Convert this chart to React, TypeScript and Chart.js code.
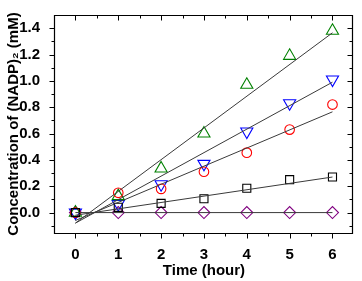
import React, { useEffect, useRef } from 'react';
import { Chart, registerables } from 'chart.js';

Chart.register(...registerables);

// ---- data ----
const hours = [0, 1, 2, 3, 4, 5, 6];
const greenUp = [0, 0.125, 0.335, 0.6, 0.97, 1.19, 1.38];
const blueDown = [0, 0.065, 0.215, 0.37, 0.615, 0.83, 1.01];
const redCircle = [0, 0.15, 0.18, 0.31, 0.455, 0.63, 0.82];
const blackSquare = [0, 0.04, 0.07, 0.105, 0.185, 0.25, 0.27];
const purpleDiamond = [0, 0, 0, 0, 0, 0, 0];

// fitted lines: value at t = 0 and at t = 6
const fitX = [0, 6];
const fitBlack = [-0.02, 0.27];
const fitRed = [-0.06, 0.765];
const fitGreen = [-0.08, 1.365];
const fitBlue = [-0.08, 0.99];
const fitPurple = [0, 0];

// axis ticks
const xMajor = [0, 1, 2, 3, 4, 5, 6];
const xMinor = [0.5, 1.5, 2.5, 3.5, 4.5, 5.5];
const yMajor = [0, 0.2, 0.4, 0.6, 0.8, 1.0, 1.2, 1.4];
const yMinor = [-0.1, 0.1, 0.3, 0.5, 0.7, 0.9, 1.1, 1.3];

const FONT = '"Liberation Sans", Arial, sans-serif';

const pts = (xs: number[], ys: number[]) => xs.map((x, i) => ({ x, y: ys[i] }));

const framePlugin = {
  id: 'frame',
  afterDatasetsDraw(chart: any) {
    const { ctx, chartArea, scales } = chart;
    const xs = scales.x;
    const ys = scales.y;
    const L = Math.floor(chartArea.left) + 0.5;
    const R = Math.floor(chartArea.right) - 0.5;
    const T = Math.floor(chartArea.top) + 0.5;
    const B = Math.floor(chartArea.bottom) + 0.5;
    ctx.save();
    ctx.strokeStyle = '#000';
    ctx.lineWidth = 1.2;
    ctx.beginPath();
    ctx.rect(L, T, R - L, B - T);
    ctx.stroke();
    ctx.lineWidth = 1;
    const majorLen = 5;
    const minorLen = 3;
    ctx.beginPath();
    const drawX = (v: number, len: number) => {
      const px = Math.round(xs.getPixelForValue(v)) + 0.5;
      ctx.moveTo(px, B);
      ctx.lineTo(px, B + len);
      ctx.moveTo(px, T);
      ctx.lineTo(px, T + len);
    };
    const drawY = (v: number, len: number) => {
      const py = Math.round(ys.getPixelForValue(v)) + 0.5;
      ctx.moveTo(L, py);
      ctx.lineTo(L - len, py);
      ctx.moveTo(R, py);
      ctx.lineTo(R - len, py);
    };
    xMajor.forEach((v) => drawX(v, majorLen));
    xMinor.forEach((v) => drawX(v, minorLen));
    yMajor.forEach((v) => drawY(v, majorLen));
    yMinor.forEach((v) => drawY(v, minorLen));
    ctx.stroke();
    ctx.restore();
  },
};

export default function App() {
  const ref = useRef<HTMLCanvasElement | null>(null);

  useEffect(() => {
    document.body.style.margin = '0';
    const canvas = ref.current;
    if (!canvas) return;
    const marker = (label: string, data: number[], color: string, style: string, radius: number, rotation = 0) => ({
      type: 'scatter' as const,
      label,
      data: pts(hours, data),
      borderColor: color,
      backgroundColor: 'rgba(0,0,0,0)',
      pointStyle: style,
      pointRadius: radius,
      pointHoverRadius: radius,
      pointRotation: rotation,
      pointBorderWidth: 1.1,
      showLine: false,
    });
    const fit = (data: number[]) => ({
      type: 'line' as const,
      label: 'fit',
      data: pts(fitX, data),
      borderColor: '#3a3a3a',
      borderWidth: 1,
      pointRadius: 0,
      fill: false,
    });
    const chart = new Chart(canvas, {
      type: 'scatter',
      data: {
        datasets: [
          fit(fitBlack),
          fit(fitRed),
          fit(fitGreen),
          fit(fitBlue),
          fit(fitPurple),
          marker('black', blackSquare, '#000000', 'rect', 5.7),
          marker('red', redCircle, '#ff0000', 'circle', 4.8),
          marker('green', greenUp, '#008000', 'triangle', 7),
          marker('blue', blueDown, '#0000ff', 'triangle', 7, 180),
          marker('purple', purpleDiamond, '#800080', 'rectRot', 6),
        ] as any,
      },
      options: {
        responsive: false,
        animation: false,
        devicePixelRatio: 1,
        events: [],
        layout: { padding: { top: 10, right: 5, left: 0, bottom: 0 } },
        plugins: {
          legend: { display: false },
          tooltip: { enabled: false },
        },
        scales: {
          x: {
            type: 'linear',
            min: -0.5,
            max: 6.5,
            afterBuildTicks: (s: any) => {
              s.ticks = xMajor.map((v) => ({ value: v }));
            },
            afterFit: (s: any) => {
              s.height = 48;
            },
            grid: { display: false },
            border: { display: false },
            ticks: {
              autoSkip: false,
              maxRotation: 0,
              padding: 5,
              color: '#000',
              font: { family: FONT, size: 15, weight: 'bold' },
              callback: (v: any) => String(v),
            },
            title: {
              display: true,
              text: 'Time (hour)',
              color: '#000',
              font: { family: FONT, size: 15, weight: 'bold' },
              padding: { top: 0, bottom: 1 },
            },
          },
          y: {
            type: 'linear',
            min: -0.155,
            max: 1.5,
            afterBuildTicks: (s: any) => {
              s.ticks = yMajor.map((v) => ({ value: v }));
            },
            afterFit: (s: any) => {
              s.width = 54;
            },
            grid: { display: false },
            border: { display: false },
            ticks: {
              autoSkip: false,
              padding: 6,
              color: '#000',
              font: { family: FONT, size: 15, weight: 'bold' },
              callback: (v: any) => Number(v).toFixed(1),
            },
            title: {
              display: true,
              text: 'Concentration of (NADP)₂ (mM)',
              color: '#000',
              font: { family: FONT, size: 15, weight: 'bold' },
              padding: { top: 5, bottom: 0 },
            },
          },
        },
      } as any,
      plugins: [framePlugin],
    });
    return () => chart.destroy();
  }, []);

  return (
    <div style={{ width: 362, height: 281 }}>
      <canvas ref={ref} width={362} height={281} style={{ width: 362, height: 281, display: 'block' }} />
    </div>
  );
}
